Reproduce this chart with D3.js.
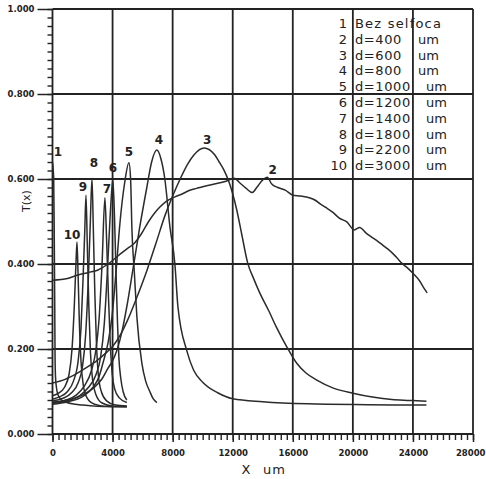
<!DOCTYPE html>
<html>
<head>
<meta charset="utf-8">
<script src="https://cdn.jsdelivr.net/npm/d3@7"></script>
<style>
  html, body { margin: 0; padding: 0; background: #fff; }
  svg { display: block; }
  text { font-family: "DejaVu Sans", sans-serif; fill: #222; }
</style>
</head>
<body>
<svg id="chart" width="486" height="479"></svg>
<script>
// Transmission profiles T(x) across the beam, one curve per selfoc length d
const curve1 = [[0,0.640],[80,0.600],[120,0.450],[150,0.300],[170,0.180],[200,0.135],[260,0.110],[370,0.092],[600,0.080],[960,0.074],[2000,0.068],[3000,0.065],[4950,0.064]];
const curve2 = [[0,0.362],[1000,0.366],[1700,0.374],[2400,0.380],[3030,0.386],[3700,0.400],[4400,0.420],[5000,0.437],[5400,0.447],[5900,0.470],[6400,0.500],[6800,0.520],[7150,0.534],[7600,0.548],[8150,0.558],[8600,0.564],[9100,0.573],[9600,0.578],[10000,0.582],[10500,0.586],[11000,0.590],[11500,0.594],[12100,0.602],[12500,0.590],[12900,0.578],[13300,0.568],[13600,0.580],[14000,0.598],[14300,0.604],[14600,0.588],[15000,0.580],[15500,0.574],[16000,0.562],[16500,0.560],[17100,0.556],[17500,0.550],[17800,0.542],[18200,0.533],[18650,0.522],[19100,0.508],[19600,0.499],[20100,0.480],[20450,0.486],[20900,0.472],[21300,0.462],[21600,0.455],[22000,0.444],[22300,0.436],[22650,0.425],[22950,0.414],[23250,0.402],[23600,0.392],[24000,0.378],[24450,0.360],[24700,0.345],[24950,0.332]];
const curve3 = [[0,0.120],[800,0.128],[1600,0.142],[2200,0.155],[3000,0.174],[3600,0.192],[4000,0.206],[4500,0.232],[5000,0.268],[5600,0.320],[6300,0.386],[6900,0.450],[7500,0.515],[8000,0.560],[8500,0.600],[9000,0.635],[9400,0.656],[10100,0.673],[10800,0.657],[11100,0.640],[11400,0.622],[11700,0.598],[12270,0.527],[12600,0.470],[13000,0.402],[13400,0.365],[13800,0.332],[14400,0.290],[14900,0.252],[15600,0.205],[16250,0.167],[16900,0.143],[17600,0.127],[18700,0.108],[20000,0.096],[21300,0.087],[22600,0.081],[23800,0.079],[24900,0.077]];
const curve4 = [[0,0.075],[800,0.078],[1700,0.087],[2300,0.098],[2830,0.111],[3300,0.130],[3700,0.155],[4000,0.172],[4300,0.198],[4650,0.245],[4950,0.300],[5350,0.386],[5800,0.485],[6280,0.580],[6600,0.640],[6950,0.668],[7200,0.650],[7480,0.600],[7820,0.487],[8150,0.400],[8350,0.300],[8950,0.195],[9400,0.150],[10000,0.122],[11000,0.097],[12000,0.083],[14000,0.076],[17000,0.071],[21000,0.069],[24900,0.068]];
const curve5 = [[0,0.070],[1000,0.076],[2000,0.088],[2700,0.110],[3100,0.135],[3360,0.167],[3700,0.215],[3960,0.275],[4250,0.390],[4490,0.496],[4800,0.590],[5090,0.638],[5200,0.600],[5290,0.480],[5450,0.380],[5620,0.275],[5950,0.167],[6200,0.125],[6480,0.100],[6700,0.083],[6950,0.074]];
const curve6 = [[0,0.072],[1000,0.078],[1800,0.090],[2400,0.110],[2900,0.140],[3200,0.180],[3450,0.260],[3650,0.380],[3850,0.520],[4020,0.598],[4120,0.520],[4230,0.380],[4330,0.260],[4420,0.180],[4550,0.130],[4700,0.100],[4950,0.080]];
const curve7 = [[0,0.074],[900,0.080],[1600,0.092],[2100,0.112],[2600,0.150],[2900,0.200],[3100,0.270],[3300,0.400],[3490,0.556],[3600,0.460],[3720,0.330],[3850,0.210],[3980,0.140],[4150,0.105],[4450,0.085],[4950,0.074]];
const curve8 = [[0,0.078],[700,0.084],[1300,0.098],[1700,0.120],[2000,0.160],[2200,0.230],[2380,0.360],[2520,0.500],[2630,0.602],[2720,0.480],[2820,0.330],[2930,0.210],[3050,0.140],[3250,0.100],[3600,0.078],[4200,0.068],[4950,0.066]];
const curve9 = [[0,0.082],[500,0.088],[1000,0.100],[1400,0.125],[1700,0.170],[1900,0.250],[2050,0.380],[2150,0.480],[2230,0.562],[2320,0.440],[2420,0.300],[2530,0.190],[2680,0.125],[2900,0.092],[3300,0.073],[4000,0.066],[4950,0.065]];
const curve10 = [[0,0.090],[400,0.096],[800,0.110],[1100,0.140],[1300,0.200],[1450,0.300],[1560,0.400],[1630,0.452],[1700,0.380],[1790,0.260],[1900,0.170],[2050,0.115],[2300,0.085],[2800,0.070],[3600,0.065],[4950,0.064]];

const curves = [curve1, curve2, curve3, curve4, curve5, curve6, curve7, curve8, curve9, curve10];
const curveIds = ["1","2","3","4","5","6","7","8","9","10"];
const legendNames = ["Bez selfoca","d=400","d=600","d=800","d=1000","d=1200","d=1400","d=1800","d=2200","d=3000"];
const legendUnits = ["","um","um","um","um","um","um","um","um","um"];

const xTicks = [0,4000,8000,12000,16000,20000,24000,28000];
const yTicks = [0,0.2,0.4,0.6,0.8,1.0];

// pixel nudges for the curve number labels, relative to each curve's peak
const labelNudge = [[5.5,-6],[5.5,-3],[3,-4],[2,-6],[0,-7],[0,-8],[2,-5],[2,-11],[-3,-4],[-5,-3]];

const svg = d3.select("#chart");
const x = d3.scaleLinear().domain([0, 28000]).range([52.5, 473]);
const y = d3.scaleLinear().domain([0, 1]).range([434, 9]);

const ink = "#222";

// grid
const grid = svg.append("g").attr("stroke", ink).attr("stroke-width", 1.8);
grid.selectAll("line.v").data(xTicks).join("line")
  .attr("x1", d => x(d)).attr("x2", d => x(d))
  .attr("y1", y(1)).attr("y2", y(0));
grid.selectAll("line.h").data(yTicks).join("line")
  .attr("x1", x(0)).attr("x2", x(28000))
  .attr("y1", d => y(d)).attr("y2", d => y(d));

// y axis: major ticks with labels, minor ticks every 0.02
const yAxis = d3.axisLeft(y).tickValues(yTicks).tickFormat(d3.format(".3f")).tickSize(15).tickPadding(3);
const gy = svg.append("g").attr("transform", `translate(${x(0)},0)`).call(yAxis);
gy.select(".domain").remove();
gy.selectAll(".tick line").attr("stroke", ink).attr("stroke-width", 1.5);
gy.selectAll(".tick text").attr("font-size", 8.5).attr("font-weight", "bold").attr("fill", "#2a2a2a")
  .attr("font-family", "DejaVu Sans");
const yMinor = d3.axisLeft(y).tickValues(d3.range(0, 1.0001, 0.02)).tickFormat("").tickSize(5);
const gym = svg.append("g").attr("transform", `translate(${x(0)},0)`).call(yMinor);
gym.select(".domain").remove();
gym.selectAll(".tick line").attr("stroke", ink).attr("stroke-width", 1.4);

// x axis: major ticks with labels, minor ticks every 400
const xAxis = d3.axisBottom(x).tickValues(xTicks).tickFormat(d3.format("d")).tickSize(8).tickPadding(8);
const gx = svg.append("g").attr("transform", `translate(0,${y(0)})`).call(xAxis);
gx.select(".domain").remove();
gx.selectAll(".tick line").attr("stroke", ink).attr("stroke-width", 1.5);
gx.selectAll(".tick text").attr("font-size", 8.5).attr("font-weight", "bold").attr("fill", "#2a2a2a")
  .attr("font-family", "DejaVu Sans");
// the last label sits against the right edge of the page
gx.selectAll(".tick text").filter(d => d === 28000).attr("text-anchor", "end").attr("dx", 12);
const xMinor = d3.axisBottom(x).tickValues(d3.range(0, 28001, 400)).tickFormat("").tickSize(6);
const gxm = svg.append("g").attr("transform", `translate(0,${y(0)})`).call(xMinor);
gxm.select(".domain").remove();
gxm.selectAll(".tick line").attr("stroke", ink).attr("stroke-width", 1.4);

// curves
const line = d3.line().x(d => x(d[0])).y(d => y(d[1])).curve(d3.curveMonotoneX);
svg.append("g").selectAll("path").data(curves).join("path")
  .attr("d", line)
  .attr("fill", "none")
  .attr("stroke", "#2b2b2b")
  .attr("stroke-width", 1.5)
  .attr("stroke-linejoin", "round");

// curve numbers placed above each peak
svg.append("g").selectAll("text").data(curves).join("text")
  .attr("x", (d, i) => x(d3.greatest(d, p => p[1])[0]) + labelNudge[i][0])
  .attr("y", (d, i) => y(d3.greatest(d, p => p[1])[1]) + labelNudge[i][1])
  .attr("text-anchor", "middle")
  .attr("font-size", 12)
  .attr("font-weight", 600)
  .text((d, i) => curveIds[i]);

// legend
const legend = svg.append("g").attr("font-size", 13);
const rowY = i => 28 + i * 15.8;
legend.selectAll("text.num").data(curveIds).join("text").attr("class", "num")
  .attr("x", 347).attr("y", (d, i) => rowY(i)).attr("text-anchor", "end").text(d => d);
legend.selectAll("text.name").data(legendNames).join("text").attr("class", "name")
  .attr("x", 355).attr("y", (d, i) => rowY(i)).attr("letter-spacing", (d, i) => i === 0 ? 1.2 : 0.6).text(d => d);
legend.selectAll("text.unit").data(legendUnits).join("text").attr("class", "unit")
  .attr("x", (d, i) => legendNames[i].length <= 5 ? 418 : 426).attr("y", (d, i) => rowY(i)).text(d => d);

// axis titles
svg.append("text").attr("x", 246).attr("y", 474).attr("text-anchor", "middle").attr("font-size", 13).text("X");
svg.append("text").attr("x", 263).attr("y", 474).attr("font-size", 13).attr("letter-spacing", 1).text("um");
svg.append("text").attr("transform", "translate(30,201) rotate(-90)").attr("text-anchor", "middle")
  .attr("font-size", 11).text("T(x)");
</script>
</body>
</html>
